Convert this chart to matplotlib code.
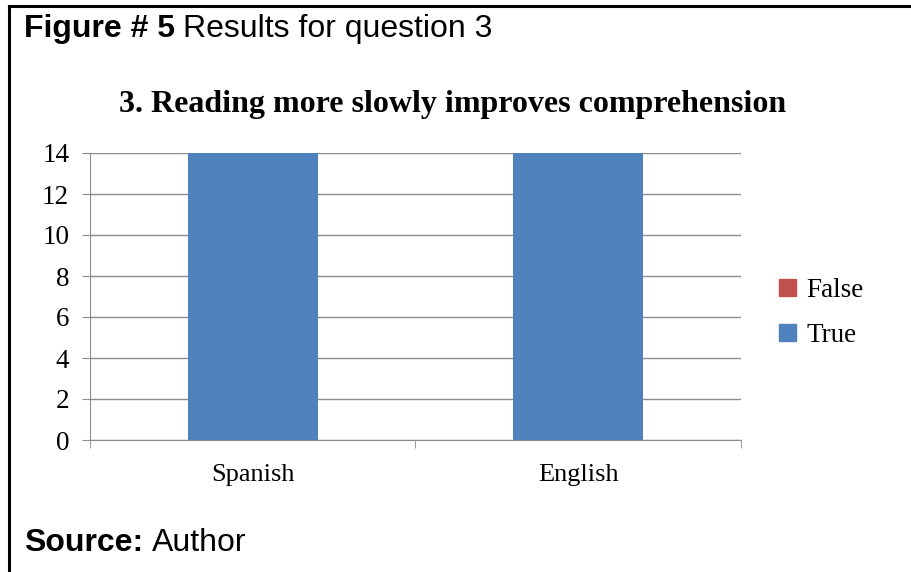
import numpy as np
import matplotlib.pyplot as plt
from matplotlib.patches import Patch

languages = ["Spanish", "English"]
false_counts = [0, 0]
true_counts = [14, 14]
y_ticks = [0, 2, 4, 6, 8, 10, 12, 14]

serif = ["Liberation Serif", "DejaVu Serif"]
sans = ["Liberation Sans", "DejaVu Sans"]

fig = plt.figure(figsize=(9.12, 5.72), dpi=100)
W, H = 912, 572

# outer frame: top and left edges only
fig.add_artist(plt.Line2D([9 / W, 1], [1 - 6 / H, 1 - 6 / H], color="black", lw=2.2))
fig.add_artist(plt.Line2D([9 / W, 9 / W], [0, 1 - 6 / H], color="black", lw=2.2))

ax = fig.add_axes([90 / W, 1 - 440 / H, (741 - 90) / W, (440 - 153) / H])
x = np.arange(len(languages))
ax.bar(x, false_counts, width=0.4, color="#C0504D", zorder=3)
ax.bar(x, true_counts, width=0.4, bottom=false_counts, color="#4F81BD", zorder=3)

ax.set_xlim(-0.5, len(languages) - 0.5)
ax.set_ylim(0, 14)
ax.set_yticks(y_ticks)
ax.set_yticklabels([str(v) for v in y_ticks], family=serif, fontsize=19.5)
ax.yaxis.grid(True, color="#8c8c8c", lw=1, zorder=0)
ax.set_xticks(x)
ax.set_xticklabels(languages, family=serif, fontsize=19)
ax.set_xticks([-0.5, 0.5, 1.5], minor=True)
ax.tick_params(axis="x", which="major", length=0, pad=17)
ax.tick_params(axis="x", which="minor", length=6, color="#8c8c8c", direction="out")
ax.tick_params(axis="y", length=6, color="#8c8c8c", direction="out", pad=9)
for side in ["top", "right"]:
    ax.spines[side].set_visible(False)
for side in ["left", "bottom"]:
    ax.spines[side].set_color("#8c8c8c")

fig.text(453 / W, 1 - 112 / H, "3. Reading more slowly improves comprehension",
         family=serif, fontsize=23, fontweight="bold", ha="center", va="baseline")

handles = [Patch(color="#C0504D"), Patch(color="#4F81BD")]
fig.legend(handles, ["False", "True"], loc="center left", bbox_to_anchor=(755 / W, 1 - 313 / H),
           frameon=False, prop={"family": serif, "size": 19.5}, handlelength=0.6,
           handleheight=0.6, handletextpad=0.4, labelspacing=0.75)

fig.canvas.draw()
r = fig.canvas.get_renderer()

def label(y, bold_part, rest):
    t = fig.text(24 / W, 1 - y / H, bold_part, family=sans, fontsize=23,
                 fontweight="bold", va="baseline")
    bb = t.get_window_extent(r)
    fig.text(bb.x1 / W + 0.009, 1 - y / H, rest, family=sans, fontsize=23, va="baseline")

label(37, "Figure # 5", "Results for question 3")
label(551, "Source:", "Author")

fig.savefig("out.png", dpi=100)
